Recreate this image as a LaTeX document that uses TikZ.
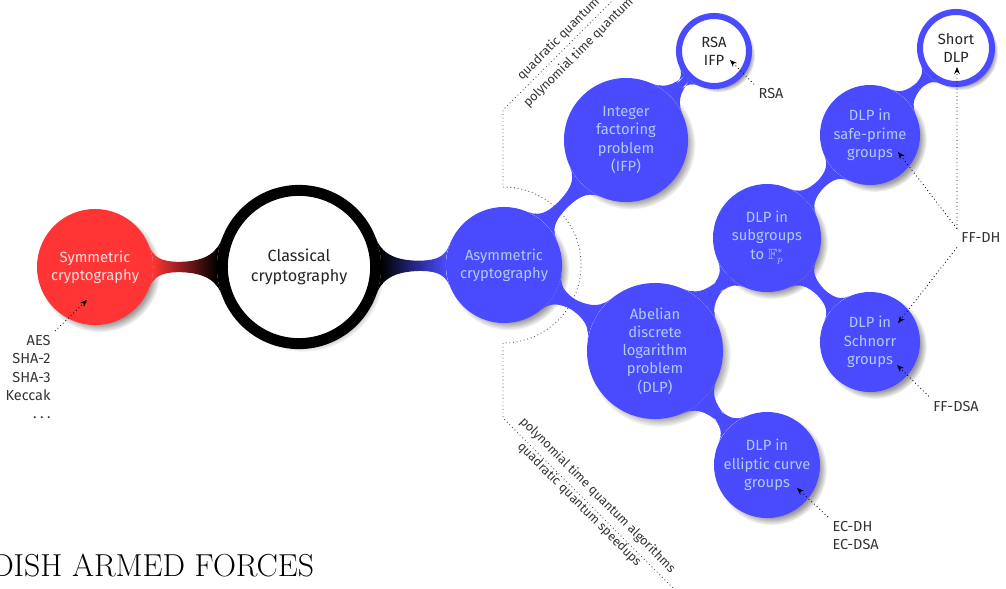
\documentclass[tikz,border=0pt]{standalone}
\usepackage{fontspec}
\usepackage{amssymb}
\setsansfont{Fira Sans}
\usetikzlibrary{mindmap,shadows,arrows.meta}
\definecolor{cblue}{RGB}{74,74,255}
\definecolor{cred}{RGB}{255,52,52}
\definecolor{paleblue}{RGB}{172,204,242}
\definecolor{palered}{RGB}{255,222,222}
\tikzset{every node/.style={font=\sffamily\fontsize{10.5}{13}\selectfont, align=center},
  idea/.style={circle, fill=cblue, text=paleblue, inner sep=0pt,
    circular drop shadow={shadow scale=1.05, shadow xshift=3pt, shadow yshift=-3pt, opacity=.8}},
  ringidea/.style={idea, fill=white, draw=cblue, line width=4.3pt, text=black!85},
  hint/.style={text=black!80, inner sep=3pt, font=\sffamily\fontsize{10.3}{13}\selectfont},
  slanted/.style={hint, font=\sffamily\fontsize{9}{11}\selectfont},
  hintarrow/.style={black, dotted, line width=.6pt, -{Stealth[length=5pt,width=4pt]}},
  bracket/.style={black!70, dotted, line width=.6pt},
  bluebar/.style={line width=9pt, circle connection bar switch color=from (cblue) to (cblue)}}

\begin{document}
\begin{tikzpicture}[x=0.025cm, y=-0.025cm]
  \useasboundingbox (0,0) rectangle (1006,588);

  \node[idea, fill=cred, text=palered, minimum size=2.9cm] (sym) at (95,267) {Symmetric\\cryptography};
  \node[ringidea, draw=black, line width=7.8pt, minimum size=3.83cm,
        font=\sffamily\fontsize{11.5}{14}\selectfont] (classic) at (299,267) {Classical\\cryptography};
  \node[idea, minimum size=2.9cm] (asym) at (504,265) {Asymmetric\\cryptography};
  \node[idea, minimum size=3.1cm] (ifp) at (626,140) {Integer\\factoring\\problem\\(IFP)};
  \node[ringidea, minimum size=1.75cm] (rsa) at (714,51) {RSA\\IFP};
  \node[idea, minimum size=3.4cm] (dlp) at (655,351) {Abelian\\discrete\\logarithm\\problem\\(DLP)};
  \node[idea, minimum size=2.7cm] (sub) at (767,238) {DLP in\\subgroups\\to $\mathbb{F}_p^*$};
  \node[idea, minimum size=2.5cm] (safe) at (870,135) {DLP in\\safe-prime\\groups};
  \node[ringidea, minimum size=1.8cm] (short) at (956,48) {Short\\DLP};
  \node[idea, minimum size=2.5cm] (schnorr) at (870,342) {DLP in\\Schnorr\\groups};
  \node[idea, minimum size=2.65cm] (ec) at (767,465) {DLP in\\elliptic curve\\groups};

  \path (sym) to[line width=9pt, circle connection bar switch color=from (cred) to (black)] (classic);
  \path (classic) to[line width=9pt, circle connection bar switch color=from (black) to (cblue)] (asym);
  \path (asym) to[bluebar] (ifp);
  \path (asym) to[bluebar] (dlp);
  \path (ifp) to[bluebar] (rsa);
  \path (dlp) to[bluebar] (sub);
  \path (dlp) to[bluebar] (ec);
  \path (sub) to[bluebar] (safe);
  \path (sub) to[bluebar] (schnorr);
  \path (safe) to[bluebar] (short);

  \draw[bracket] (663,-50) -- (503,110) -- (503,187)
    arc[start angle=-90, end angle=90, radius=78] -- (503,418) -- (693,608);
  \node[slanted, rotate=45, anchor=south west] (qtop) at (524,89) {quadratic quantum speedups};
  \node[slanted, rotate=45, anchor=north west] (ptop) at (515,101) {polynomial time quantum algorithms};
  \node[slanted, rotate=-45, anchor=south west] (pbot) at (511,424) {polynomial time quantum algorithms};
  \node[slanted, rotate=-45, anchor=north west] (qbot) at (524,434) {quadratic quantum speedups};

  \node[hint, anchor=north east, align=right] (symhint) at (55,331) {AES\\SHA-2\\SHA-3\\Keccak\\.\hspace{2.5pt}.\hspace{2.5pt}.};
  \node[hint] (rsahint) at (771,94) {RSA};
  \node[hint] (ffdh) at (981,238) {FF-DH};
  \node[hint] (ffdsa) at (956,406) {FF-DSA};
  \node[hint, anchor=north west, align=left] (echint) at (828,517) {EC-DH\\EC-DSA};

  \coordinate (symtip) at (87,300);
  \coordinate (rsatip) at (730,60);
  \coordinate (shorttip) at (957,67);
  \coordinate (safetip) at (898,152);
  \coordinate (schnorrtip) at (898,323);
  \coordinate (ffdsatip) at (897,365);
  \coordinate (ectip) at (797,488);
  \draw[hintarrow] (symhint.north east) -- (symtip);
  \draw[hintarrow] (rsahint.north west) -- (rsatip);
  \draw[hintarrow] (ffdh.north west) -- (shorttip);
  \draw[hintarrow] (ffdh.north west) -- (safetip);
  \draw[hintarrow] (ffdh.south west) -- (schnorrtip);
  \draw[hintarrow] (ffdsa.north west) -- (ffdsatip);
  \draw[hintarrow] (echint.north west) -- (ectip);

  \node[anchor=base west, inner sep=0pt, font=\rmfamily\fontsize{22.6}{26}\selectfont] (footer) at (-9,576) {DISH ARMED FORCES};
\end{tikzpicture}
\end{document}
